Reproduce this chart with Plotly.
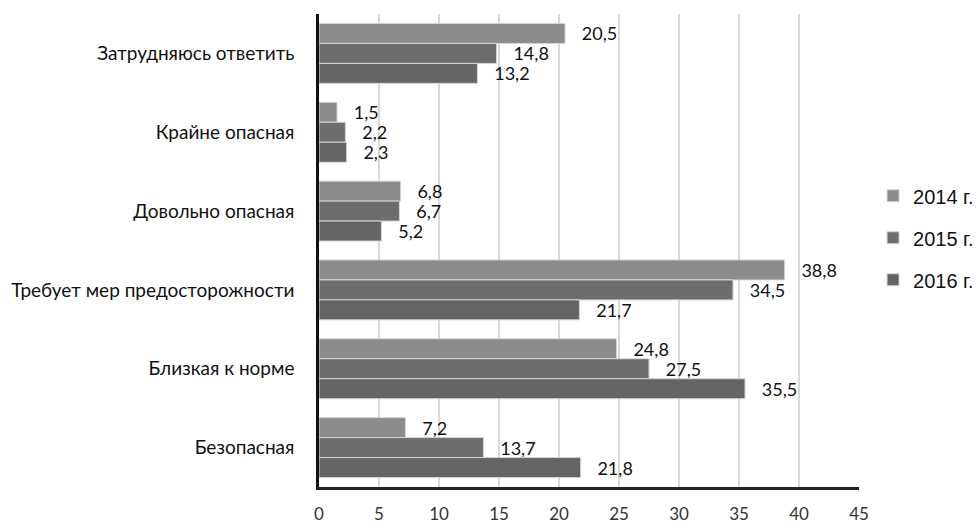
import plotly.graph_objects as go

categories = ["Затрудняюсь ответить", "Крайне опасная", "Довольно опасная",
              "Требует мер предосторожности", "Близкая к норме", "Безопасная"]
series_names = ["2014 г.", "2015 г.", "2016 г."]
v2014 = [20.5, 1.5, 6.8, 38.8, 24.8, 7.2]
v2015 = [14.8, 2.2, 6.7, 34.5, 27.5, 13.7]
v2016 = [13.2, 2.3, 5.2, 21.7, 35.5, 21.8]
colors = ["#8c8c8c", "#6d6d6d", "#646464"]
x_ticks = [0, 5, 10, 15, 20, 25, 30, 35, 40, 45]

NB = "\u00a0"
fig = go.Figure()
for name, vals, col in zip(series_names, [v2014, v2015, v2016], colors):
    fig.add_trace(go.Bar(
        y=categories, x=vals, name=name, orientation="h", legendgroup=name,
        marker=dict(color=col, line=dict(color="#d4d4d4", width=1)),
        text=[NB * 3 + f"{v:.1f}".replace(".", ",") for v in vals],
        textposition="outside", cliponaxis=False, constraintext="none",
        textfont=dict(family="Lato, Carlito, sans-serif", size=18, color="#111"),
    ))

fig.update_layout(
    width=980, height=525,
    margin=dict(l=311, r=129, t=6, b=46, autoexpand=False),
    barmode="group", bargap=0.24, bargroupgap=0,
    plot_bgcolor="white", paper_bgcolor="white",
    font=dict(family="Lato, Carlito, sans-serif", size=19, color="#111"),
    legend=dict(x=1.026, y=0.527, xanchor="left", yanchor="middle",
                font=dict(family="Liberation Sans, Arial, sans-serif", size=20, color="#111"),
                traceorder="grouped", itemwidth=30, tracegroupgap=13),
    xaxis=dict(range=[0, 45], tickvals=x_ticks, showgrid=True, gridcolor="#d9d9d9",
               gridwidth=1.5, zeroline=False, showline=True, linecolor="#222", linewidth=2.5,
               ticks="outside", ticklen=10, tickcolor="rgba(0,0,0,0)",
               tickfont=dict(size=17, color="#333")),
    yaxis=dict(autorange="reversed", showline=True, linecolor="#111", linewidth=2.5,
               ticks="outside", ticklen=18, tickcolor="rgba(0,0,0,0)",
               tickfont=dict(size=19, color="#111")),
)
fig.write_html("out.html")
